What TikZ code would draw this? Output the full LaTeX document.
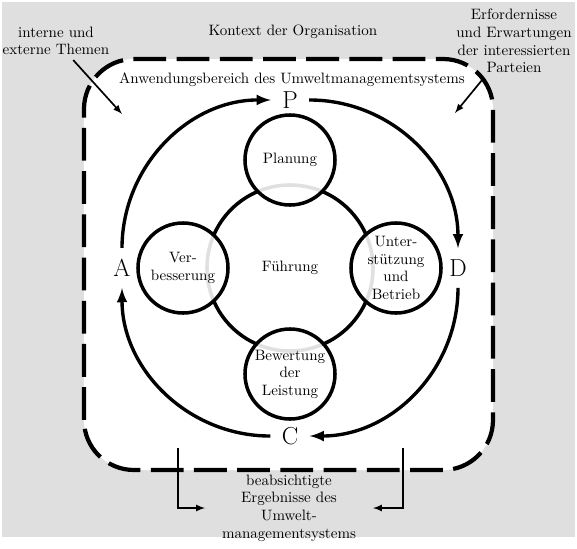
\documentclass[tikz,border=0pt]{standalone}
\usepackage{xcolor}
\usetikzlibrary{arrows}
\definecolor{kontextgrau}{HTML}{DFDFDF}

\tikzset{
  feld/.style={circle, draw, line width=2.5pt, fill=white, fill opacity=0.88, text opacity=1,
    minimum size=2.25cm, inner sep=0pt, align=center},
  zyklus/.style={-latex, line width=2.4pt},
  pdca/.style={inner sep=0.28cm, font=\fontsize{17.5}{20}\selectfont},
  kontextpfeil/.style={-latex, line width=1.2pt},
  bereichsrand/.style={line width=3pt, dash pattern=on 0.82cm off 0.26cm, fill=white, rounded corners=1.25cm}
}

\begin{document}
\begin{tikzpicture}[x=0.025cm, y=0.025cm, font=\fontsize{10.7}{12.5}\selectfont]
\useasboundingbox (-290,-280) rectangle (287,268);
\fill[kontextgrau] (-288,-269) rectangle (285,266);
\draw[bereichsrand] (-206,-202) rectangle (203,209);

\node (kontext) at (3,236) {Kontext der Organisation};
\node (anwendung) at (2,188) {Anwendungsbereich des Umweltmanagementsystems};

% Kreise
\node[circle, draw, line width=2.5pt, minimum size=4.15cm] (fuehrung) at (0,0) {Führung};
\node[feld] (planung) at (90:108) {Planung};
\node[feld] (betrieb) at (0:106) {Unter-\\stützung\\und\\Betrieb};
\node[feld] (bewertung) at (-90:106) {Bewertung\\der\\Leistung};
\node[feld] (verbesserung) at (180:107) {Ver-\\besserung};

% PDCA
\node[pdca] (P) at (90:168) {P};
\node[pdca] (D) at (0:168) {D};
\node[pdca] (C) at (-90:168) {C};
\node[pdca] (A) at (180:168) {A};
\draw[zyklus] (P) to[bend left=45] (D);
\draw[zyklus] (D) to[bend left=45] (C);
\draw[zyklus] (C) to[bend left=45] (A);
\draw[zyklus] (A) to[bend left=45] (P);

% Kontext
\node[align=center] (themen) at (-234,227) {interne und\\externe Themen};
\node[align=center] (parteien) at (224,227) {Erfordernisse\\und Erwartungen\\der interessierten\\Parteien};
\node[align=center] (ergebnisse) at (-1,-240) {beabsichtigte\\Ergebnisse des\\Umwelt-\\managementsystems};
\coordinate (themenziel) at (-168,154);
\coordinate (parteienziel) at (165,155);
\coordinate (ergebnisl) at (-112,-180);
\coordinate (ergebnisr) at (113,-180);
\draw[kontextpfeil] (themen) -- (themenziel);
\draw[kontextpfeil] (parteien) -- (parteienziel);
\draw[kontextpfeil, shorten >=0.3cm] (ergebnisl) |- (ergebnisse);
\draw[kontextpfeil, shorten >=0.3cm] (ergebnisr) |- (ergebnisse);
\end{tikzpicture}
\end{document}
